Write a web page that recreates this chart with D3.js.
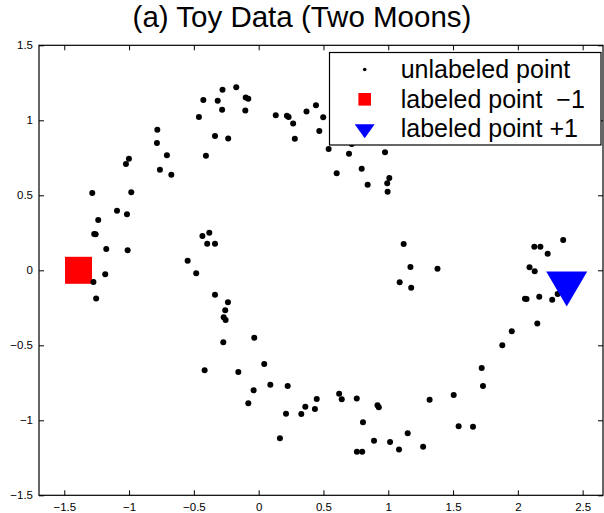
<!DOCTYPE html>
<html>
<head>
<meta charset="utf-8">
<script src="https://cdn.jsdelivr.net/npm/d3@7"></script>
<style>
  html, body { margin: 0; padding: 0; background: #fff; }
  svg { display: block; }
  text { font-family: "Liberation Sans", Arial, Helvetica, sans-serif; fill: #000; }
</style>
</head>
<body>
<svg id="chart" width="604" height="513"></svg>
<script>
// Two-moons toy data: unlabeled points (x and y coordinates)
const unlabeledX = [
  -1.284, -1.238, -1.269, -1.258, -1.176, -1.093, -1.024, -1.001, -0.983, -1.016,
  -1.011, -1.184, -1.275, -1.254, -0.782, -0.785, -0.708, -0.762, -0.674, -0.461,
  -0.427, -0.407, -0.337, -0.316, -0.279, -0.282, -0.235, -0.173, -0.100, -0.080,
  -0.103, 0.132, 0.218, 0.231, 0.266, 0.279, 0.369, 0.442, 0.498, 0.468,
  0.540, 0.697, 0.718, 0.975, 0.795, 0.602, 0.841, 1.008, 0.992, 0.995,
  1.119, 1.171, 1.380, 1.088, 1.177,
  -0.548, -0.482, -0.434, -0.381, -0.397, -0.337, -0.337, -0.237, -0.258, -0.270,
  -0.255, -0.273, -0.034, -0.417, -0.157, 0.043, 0.090, -0.039, -0.080, 0.224,
  0.211, 0.329, 0.360, 0.164, 0.434, 0.448, 0.621, 0.641, 0.757, 0.917,
  0.927, 0.805, 0.890, 1.014, 1.083, 1.150, 1.269, 1.319, 0.758, 0.799,
  1.505, 1.543, 1.654, 1.721, 1.731, 1.880, 1.953, 2.150, 2.055, 2.067,
  2.165, 2.265, 2.307, 2.090, 2.130, 2.127, 2.174, 2.230, 2.350
];
const unlabeledY = [
  0.515, 0.335, 0.242, 0.240, 0.142, 0.397, 0.709, 0.744, 0.520, 0.373,
  0.133, -0.027, -0.078, -0.188, 0.937, 0.849, 0.767, 0.671, 0.637, 1.022,
  1.135, 0.763, 0.895, 1.130, 1.204, 1.070, 0.879, 1.220, 1.152, 1.143,
  1.065, 1.034, 1.030, 1.022, 0.979, 0.877, 1.058, 1.100, 1.021, 0.929,
  0.809, 0.777, 0.842, 0.787, 0.677, 0.647, 0.571, 0.615, 0.581, 0.524,
  0.175, 0.022, 0.011, -0.080, -0.116,
  0.064, -0.019, 0.229, 0.250, 0.177, 0.177, -0.163, -0.213, -0.267, -0.313,
  -0.331, -0.480, -0.450, -0.667, -0.678, -0.625, -0.763, -0.800, -0.887, -0.771,
  -0.956, -0.958, -0.909, -1.120, -0.925, -0.858, -0.823, -0.859, -0.855, -0.899,
  -0.913, -1.013, -1.137, -1.145, -1.195, -1.087, -1.177, -0.863, -1.209, -1.209,
  -0.831, -1.040, -1.043, -0.651, -0.771, -0.500, -0.407, -0.355, -0.190, -0.191,
  -0.176, -0.196, -0.158, 0.020, -0.006, 0.157, 0.157, 0.110, 0.202
];

// The two labeled points
const labeledNeg = [-1.39, 0.0];   // class -1
const labeledPos = [2.377, -0.125]; // class +1

const xTicks = [-1.5, -1, -0.5, 0, 0.5, 1, 1.5, 2, 2.5];
const yTicks = [-1.5, -1, -0.5, 0, 0.5, 1, 1.5];
const titleText = "(a) Toy Data (Two Moons)";
const legendLabels = ["unlabeled point", "labeled point  \u22121", "labeled point +1"];

const svg = d3.select("#chart");
const plotLeft = 39, plotRight = 603, plotTop = 45.3, plotBottom = 495.3;

const x = d3.scaleLinear().domain([-1.695, 2.657]).range([plotLeft, plotRight]);
const y = d3.scaleLinear().domain([-1.5, 1.5]).range([plotBottom, plotTop]);
const fmt = d3.format("");

// Title
svg.append("text")
  .attr("x", 302).attr("y", 26.5)
  .attr("text-anchor", "middle")
  .style("font-size", "29.5px")
  .text(titleText);

// Axes with inward ticks on all four sides
const tickLen = 5;
const axes = svg.append("g");
axes.append("g").attr("transform", `translate(0,${plotBottom})`)
  .call(d3.axisBottom(x).tickValues(xTicks).tickFormat(fmt).tickSizeInner(-tickLen).tickSizeOuter(0).tickPadding(7.5));
axes.append("g").attr("transform", `translate(0,${plotTop})`)
  .call(d3.axisTop(x).tickValues(xTicks).tickFormat("").tickSizeInner(-tickLen).tickSizeOuter(0));
axes.append("g").attr("transform", `translate(${plotLeft},0)`)
  .call(d3.axisLeft(y).tickValues(yTicks).tickFormat(fmt).tickSizeInner(-tickLen).tickSizeOuter(0).tickPadding(6));
axes.append("g").attr("transform", `translate(${plotRight},0)`)
  .call(d3.axisRight(y).tickValues(yTicks).tickFormat("").tickSizeInner(-tickLen).tickSizeOuter(0));
axes.selectAll(".domain").remove();
axes.selectAll(".tick line").attr("stroke", "#000").attr("stroke-width", 1);
axes.selectAll(".tick text")
  .style("font-size", "11.5px")
  .style("font-family", "'Liberation Sans', Arial, Helvetica, sans-serif")
  .attr("fill", "#000");

// Frame
svg.append("rect")
  .attr("x", plotLeft).attr("y", plotTop)
  .attr("width", plotRight - plotLeft).attr("height", plotBottom - plotTop)
  .attr("fill", "none").attr("stroke", "#000").attr("stroke-width", 1.2);

const plot = svg.append("g");

// Labeled point -1 (red square)
const sq = 27;
plot.append("rect")
  .attr("x", x(labeledNeg[0]) - sq / 2).attr("y", y(labeledNeg[1]) - sq / 2)
  .attr("width", sq).attr("height", sq)
  .attr("fill", "#ff0000");

// Unlabeled points
plot.selectAll("circle.pt")
  .data(d3.range(unlabeledX.length))
  .join("circle")
  .attr("class", "pt")
  .attr("cx", i => x(unlabeledX[i]))
  .attr("cy", i => y(unlabeledY[i]))
  .attr("r", 3)
  .attr("fill", "#000");

// Labeled point +1 (blue downward triangle)
const triW = 41, triH = 35;
const tx = x(labeledPos[0]), ty = y(labeledPos[1]);
plot.append("path")
  .attr("d", `M${tx - triW / 2},${ty - triH / 2}L${tx + triW / 2},${ty - triH / 2}L${tx},${ty + triH / 2}Z`)
  .attr("fill", "#0000ff");

// Legend
const lg = svg.append("g");
lg.append("rect")
  .attr("x", 329.5).attr("y", 52.5).attr("width", 271.5).attr("height", 92.5)
  .attr("fill", "#fff").attr("stroke", "#000").attr("stroke-width", 1.2);
const mx = 364.7;
const rowsY = [78, 107.6, 137];
lg.append("circle").attr("cx", mx).attr("cy", 69.5).attr("r", 1.8).attr("fill", "#000");
lg.append("rect").attr("x", mx - 6.3).attr("y", 93).attr("width", 12.6).attr("height", 12.6).attr("fill", "#ff0000");
lg.append("path")
  .attr("d", `M${mx - 10},124.3L${mx + 10},124.3L${mx},138.3Z`)
  .attr("fill", "#0000ff");
lg.selectAll("text.lab")
  .data(legendLabels)
  .join("text")
  .attr("class", "lab")
  .attr("x", 400.7)
  .attr("y", (d, i) => rowsY[i])
  .style("font-size", "25px")
  .style("white-space", "pre")
  .text(d => d);
</script>
</body>
</html>
